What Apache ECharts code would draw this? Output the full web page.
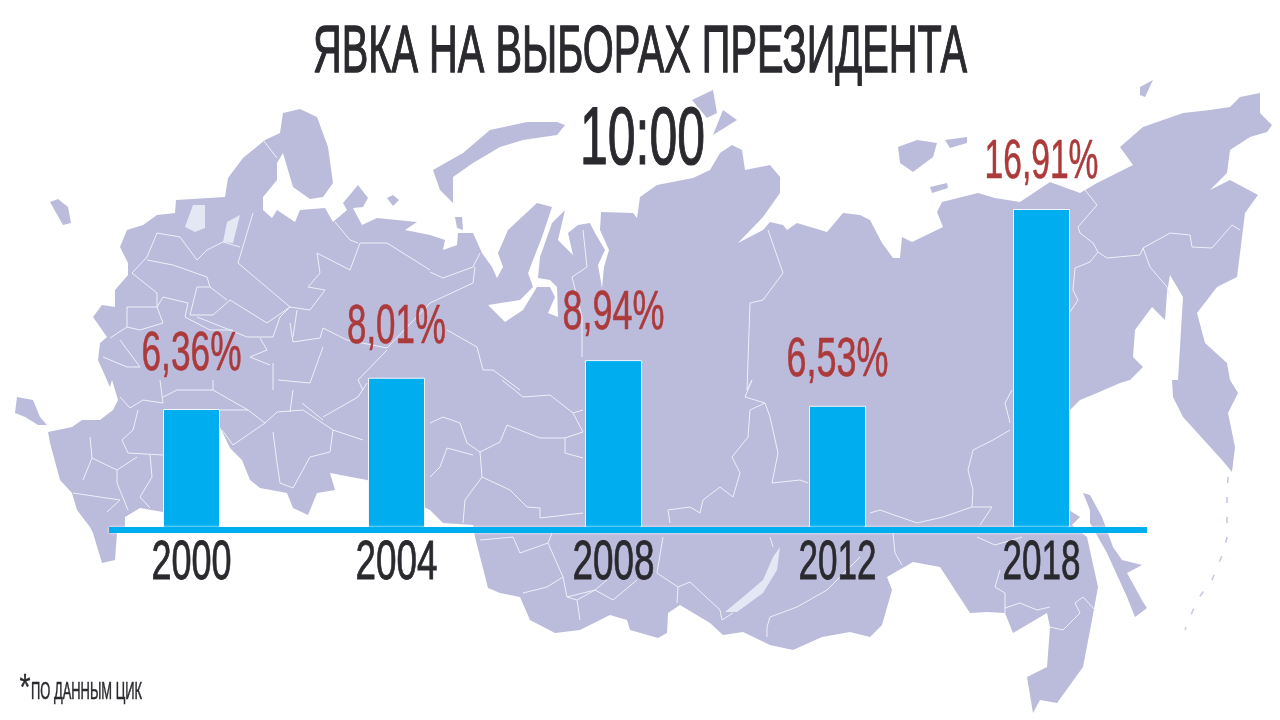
<!DOCTYPE html>
<html><head><meta charset="utf-8">
<style>html,body{margin:0;padding:0;background:#fff}#c{width:1280px;height:720px}</style>
<script src="https://cdn.jsdelivr.net/npm/echarts@6/dist/echarts.min.js"></script>
</head><body><div id="c"></div>
<script>
// ---- data ----
var years = ['2000','2004','2008','2012','2018'];
var turnout = [6.36,8.01,8.94,6.53,16.91];
var turnoutLabels = ['6,36%','8,01%','8,94%','6,53%','16,91%'];
// ---- layout (unevenly spaced columns in the source) ----
var slots = [191.5,396.5,613.5,837.5,1041.5];
var labelGaps = [54,50,46,45,46];
var labelWidths = [100,99,102,102,114];
var yearWidths = [80,82,82,78,78];
// ---- decorative background map ----
var mapLand = [
"120,247 127,230 143,225 157,215 175,213 176,200 225,197 228,178 243,158 265,140 280,133 283,113 300,109 317,117 328,147 333,183 323,197 310,199 293,187 283,153 277,163 277,180 263,197 263,210 272,218 277,210 295,222 300,210 325,208 333,222 347,210 343,203 358,185 368,198 363,207 353,208 362,225 377,218 417,222 405,230 430,235 445,240 443,250 457,245 458,233 473,233 482,253 492,267 497,278 503,267 498,253 508,230 537,203 552,207 542,237 528,273 533,287 520,300 488,305 505,322 523,310 537,287 550,287 555,297 548,313 558,317 557,287 550,280 538,278 540,257 552,223 565,210 558,240 573,255 568,233 578,225 590,223 595,233 605,250 598,265 602,288 604,267 609,250 600,230 601,212 633,213 637,218 640,197 657,185 693,178 710,170 720,153 732,145 742,150 745,170 770,165 780,177 780,193 763,217 738,243 763,230 770,222 783,225 787,230 797,223 827,232 843,213 860,215 870,220 882,243 893,258 900,258 902,237 912,242 943,227 937,212 942,202 978,193 995,198 1020,202 1050,182 1080,193 1097,183 1133,165 1120,147 1143,127 1183,113 1210,110 1230,107 1240,97 1260,93 1260,113 1272,125 1267,132 1250,137 1230,150 1227,173 1210,190 1230,180 1258,195 1245,213 1240,253 1237,277 1217,287 1197,313 1205,343 1227,363 1230,380 1238,393 1228,413 1235,447 1232,472 1222,460 1183,417 1173,397 1172,380 1178,380 1180,347 1183,297 1170,275 1167,293 1165,320 1152,307 1135,330 1133,357 1143,367 1130,380 1120,383 1097,393 1080,400 1073,407 1067,413 1067,507 1072,512 1080,517 1072,525 1087,537 1098,587 1092,620 1083,667 1057,703 1040,700 1033,713 1027,677 1047,667 1050,627 1047,613 1013,633 1005,613 987,612 970,613 940,567 913,562 887,577 892,590 882,625 870,637 850,632 822,637 793,650 770,645 743,632 723,635 710,623 680,605 668,613 667,633 658,638 630,630 627,620 610,615 580,630 555,633 530,620 520,597 500,593 488,588 475,537 473,525 443,523 430,510 367,480 330,473 335,490 317,493 308,515 293,508 287,493 260,488 250,480 242,460 230,448 220,427 217,513 163,512 140,508 125,517 125,527 117,533 115,560 102,563 93,533 90,527 77,510 72,493 60,480 50,443 48,432 72,427 82,420 100,420 113,410 118,400 112,380 110,387 98,360 100,343 107,337 93,317 102,305 115,307 115,290 128,275 128,263",
"17,397 33,400 40,417 47,425 38,425 25,417 15,413",
"50,202 58,199 68,207 71,223 63,225",
"1083,493 1090,495 1102,517 1113,547 1122,560 1142,565 1127,573 1143,602 1147,608 1135,617 1127,597 1107,553 1090,523 1090,510",
"565,125 557,135 523,140 500,147 473,163 453,177 453,203 440,190 433,170 463,153 490,130 527,122 557,122",
"455,217 462,217 463,230 457,228",
"692,100 713,90 717,113 707,118",
"723,110 737,120 713,135",
"898,147 917,140 937,143 933,157 913,172 900,163",
"945,140 967,137 967,143 950,148",
"930,187 947,183 948,188 932,193",
"1140,87 1153,80 1145,97 1140,95",
"387,198 393,195 399,200 393,206"
];
var mapLakes = [
"193,205 205,205 205,228 195,232 185,227",
"227,222 240,215 233,243 223,242",
"780,547 777,570 763,593 737,612 725,612 743,597 763,580 773,557"
];
var mapBorders = [
"430,270 387,243 360,243 350,270 317,253 320,273 308,287 325,290 310,310 290,307 238,263 253,213",
"335,222 350,240 358,243","263,140 277,158",
"290,307 267,323 230,300 213,315 190,315 197,287 210,287 227,300",
"240,247 223,242 207,250 197,260 180,237 157,233 147,257 132,273",
"147,260 173,265 207,277 210,287",
"132,273 157,293 157,307 127,307",
"157,307 163,297 188,303 185,317 210,330 233,330",
"197,317 230,330 247,337 273,337 280,317 290,307",
"127,307 127,327 110,338","127,327 140,330 163,323 157,307",
"103,357 127,367 140,367 120,340",
"293,337 297,310","290,323 293,342 320,338 323,328 347,340 387,348 430,303",
"387,350 358,380 363,390","323,347 310,383 278,380","260,338 267,350 250,357 270,365","273,363 273,390",
"120,397 130,408 143,400 163,403","138,410 133,430 122,440 128,453 163,455",
"90,437 92,458 117,470 137,457","117,470 117,483 128,510","83,480 92,458","73,493 120,500 107,512",
"150,455 152,477 140,497 150,508",
"163,397 177,390 213,390 248,410 265,423 233,445 222,430","248,410 220,410",
"265,423 277,412 303,410 333,430 363,440","273,432 277,463 280,483 293,488 310,457 330,452 333,430",
"302,403 323,420","367,383 358,397 323,417","213,390 213,380","160,380 163,403","293,390 290,412",
"430,423 443,417 460,423 467,443 480,452 500,442 507,425 540,438 565,438 583,432",
"480,452 482,477 510,490 527,507 540,508 540,518 583,513","482,477 465,500 463,523","565,438 565,453 583,458",
"502,380 523,397 550,395 573,413 583,410","573,413 583,432","447,448 473,455","447,448 440,467 430,477",
"480,540 513,537 520,553 548,543 552,533","548,543 563,577 567,597 595,590 607,580","567,597 577,600 580,620",
"523,593 547,587 563,577","595,590 613,600 637,580","577,600 595,590",
"657,573 678,587 677,603","678,587 690,582 720,610 722,620 733,613","663,537 657,573",
"670,523 668,510 690,507 700,513 703,500 720,487 733,497 740,473 732,457 748,437 750,410 765,403 770,417 778,453 772,483 800,480 808,483",
"765,403 745,397 752,380 747,390 750,303 763,300 783,273 768,230",
"582,357 582,317 572,277 587,267 583,230","430,272 443,278 473,267 480,253","430,303 473,283 475,267",
"447,330 477,347 483,370 493,370 520,390",
"770,537 773,547","767,637 767,627 770,617 797,607 827,590 860,557",
"870,513 880,510 917,523 943,517 972,507 992,507 980,525","972,507 973,490 968,470 973,450 993,440 1010,430",
"1010,423 1005,403 1012,390","893,533 895,553 902,565","977,537 995,545 1022,537",
"1000,570 995,587 1005,593 1005,613","1005,608 1020,603 1037,610 1050,607","1050,627 1063,630 1080,613 1075,603 1083,597 1095,610",
"1085,190 1097,205 1078,227 1080,233 1093,243 1098,252 1107,258 1140,255 1143,248 1170,233 1190,235 1192,247 1212,248 1232,225 1240,230",
"1098,252 1090,262 1075,268 1073,290 1078,300 1070,312","1143,248 1150,267 1167,287 1170,297"
];
var kurils = "1228,477 1227,493 1227,513 1227,537 1223,553 1212,580 1197,600 1185,630";

function parsePts(s){return s.split(' ').map(function(p){return p.split(',').map(Number);});}
var FONT = '"Liberation Sans Narrow","Liberation Sans",sans-serif';
var ctx = document.createElement('canvas').getContext('2d');
function fit(text,size,width){ctx.font=size+'px '+FONT;return width/ctx.measureText(text).width;}
function textEl(text,cx,cy,size,width,color,sw){
  return {type:'text',x:cx,y:cy,scaleX:fit(text,size,width),z:20,silent:true,
    style:{text:text,x:0,y:0,align:'center',verticalAlign:'middle',font:size+'px '+FONT,fill:color,stroke:color,lineWidth:sw}};
}
var INK='#29292e', RED='#ad3a3a', BLUE='#00aeef', LAND='#bbbbdc', LAKE='#e3e8f4';
var graphics = [];
mapLand.forEach(function(s){graphics.push({type:'polygon',z:-5,silent:true,shape:{points:parsePts(s)},style:{fill:LAND,stroke:null}});});
mapLakes.forEach(function(s){graphics.push({type:'polygon',z:-4,silent:true,shape:{points:parsePts(s)},style:{fill:LAKE}});});
mapBorders.forEach(function(s){graphics.push({type:'polyline',z:-3,silent:true,shape:{points:parsePts(s)},style:{stroke:'#eef0f8',lineWidth:1,fill:null}});});
graphics.push({type:'polyline',z:-3,silent:true,shape:{points:parsePts(kurils)},style:{stroke:'#c6c6e2',lineWidth:1.5,lineDash:[6,14],fill:null}});
graphics.push(textEl('ЯВКА НА ВЫБОРАХ ПРЕЗИДЕНТА',640,54,66,654,INK,1.3));
graphics.push(textEl('10:00',642.5,141,82,125,INK,1.2));
graphics.push(textEl('*',25,690,36,11,INK,0.3));
graphics.push(textEl('ПО ДАННЫМ ЦИК',86.5,692.5,23,111,INK,0.5));

var rows = years.map(function(y,i){return [slots[i],turnout[i]];});
var chart = echarts.init(document.getElementById('c'));
chart.setOption({
  animation:false,
  backgroundColor:'#ffffff',
  grid:{left:109,right:133,top:150.4,bottom:190.4,containLabel:false},
  xAxis:{type:'value',min:109,max:1147,z:10,splitLine:{show:false},axisTick:{show:false},axisLabel:{show:false},
    axisLine:{show:true,onZero:false,lineStyle:{color:BLUE,width:6,cap:'butt',shadowColor:'rgba(255,255,255,0.9)',shadowBlur:3}}},
  yAxis:{type:'value',min:0,max:20,show:false,splitLine:{show:false}},
  graphic:graphics,
  series:[
    {type:'bar',barWidth:57,data:rows,itemStyle:{color:BLUE,borderColor:'#f2f7fb',borderWidth:1},z:3},
    {type:'custom',coordinateSystem:'cartesian2d',data:rows,z:6,silent:true,
      renderItem:function(params,api){
        var i=params.dataIndex, pt=api.coord([api.value(0),api.value(1)]), base=api.coord([api.value(0),0]);
        return {type:'group',children:[
          {type:'text',x:pt[0],y:pt[1]-labelGaps[i],scaleX:fit(turnoutLabels[i],55,labelWidths[i]),
            style:{text:turnoutLabels[i],x:0,y:0,align:'center',verticalAlign:'middle',font:'55px '+FONT,fill:RED,stroke:RED,lineWidth:0.6}},
          {type:'text',x:pt[0],y:base[1]+34,scaleX:fit(years[i],55,yearWidths[i]),
            style:{text:years[i],x:0,y:0,align:'center',verticalAlign:'middle',font:'55px '+FONT,fill:INK,stroke:INK,lineWidth:0.8}}
        ]};
      }}
  ]
});
</script></body></html>
